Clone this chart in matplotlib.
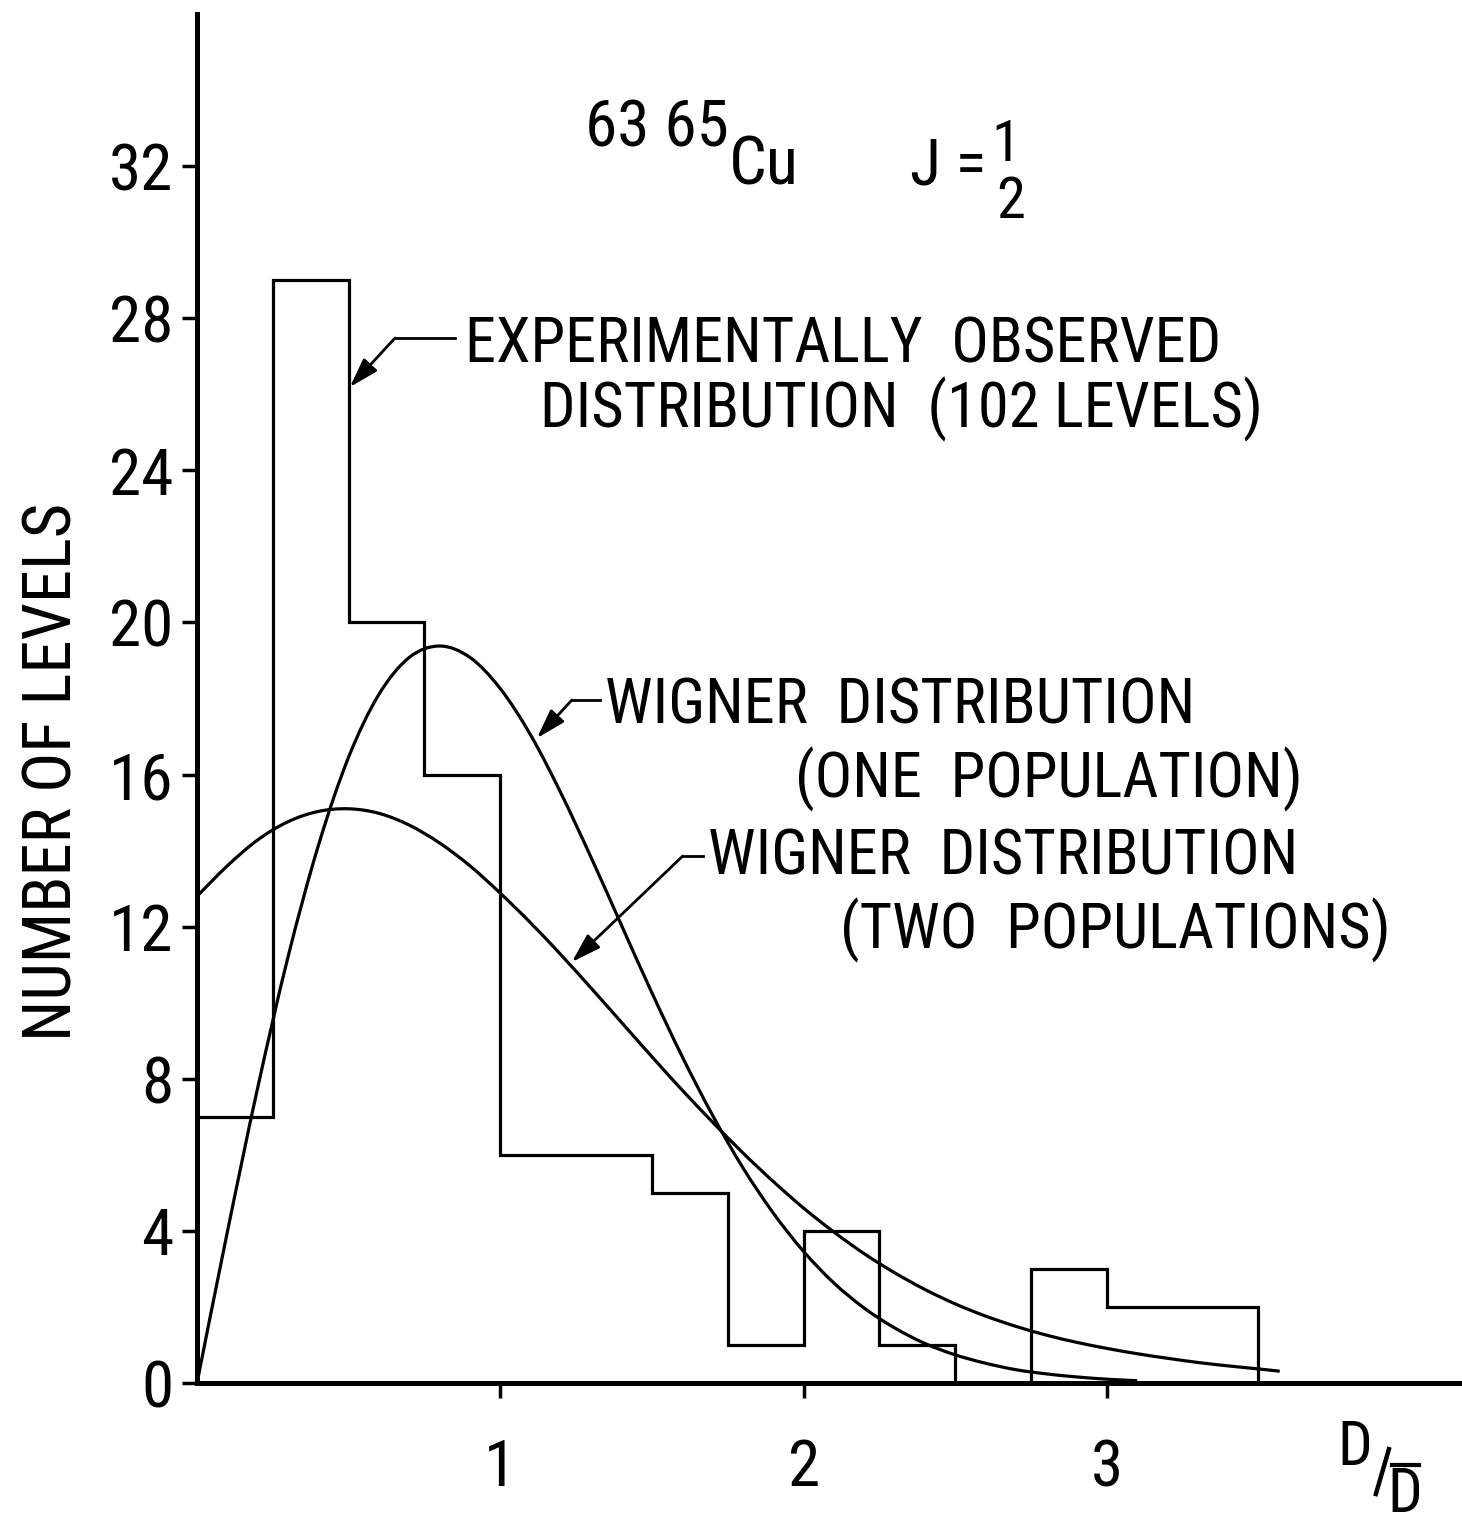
import matplotlib
matplotlib.use("Agg")
import matplotlib.pyplot as plt
import numpy as np
from matplotlib.path import Path
from matplotlib.patches import PathPatch
from matplotlib.lines import Line2D

plt.rcParams['font.family'] = ['Roboto Condensed', 'DejaVu Sans']

# Observed level-spacing histogram (bins of width 0.25 in D/<D>)
bin_edges = [0.0, 0.25, 0.5, 0.75, 1.0, 1.25, 1.5, 1.75, 2.0, 2.25, 2.5, 2.75, 3.0, 3.25, 3.5]
level_counts = [7, 29, 20, 16, 6, 6, 5, 1, 4, 1, 0, 3, 2, 2]

# Wigner distribution, one population
one_pop_x = [0.0, 0.1, 0.2, 0.3, 0.4, 0.5, 0.6, 0.7, 0.8, 0.9, 1.0, 1.1, 1.2, 1.3, 1.4,
             1.5, 1.6, 1.7, 1.8, 1.9, 2.0, 2.1, 2.2, 2.3, 2.4, 2.5, 2.6, 2.7, 2.8, 2.9,
             3.0, 3.1]
one_pop_y = [0.0, 3.97, 7.76, 11.2, 14.13, 16.46, 18.11, 19.08, 19.38, 19.08, 18.26,
             17.04, 15.51, 13.81, 12.03, 10.26, 8.58, 7.04, 5.66, 4.47, 3.46, 2.63,
             1.97, 1.45, 1.04, 0.74, 0.52, 0.35, 0.24, 0.16, 0.10, 0.06]

# Wigner distribution, two populations
two_pop_x = [0.0, 0.1, 0.2, 0.3, 0.4, 0.5, 0.6, 0.7, 0.8, 0.9, 1.0, 1.1, 1.2, 1.3, 1.4,
             1.5, 1.6, 1.7, 1.8, 1.9, 2.0, 2.1, 2.2, 2.3, 2.4, 2.5, 2.6, 2.7, 2.8, 2.9,
             3.0, 3.1, 3.2, 3.3, 3.4, 3.5, 3.57]
two_pop_y = [12.8, 13.6, 14.28, 14.76, 15.03, 15.1, 14.98, 14.67, 14.2, 13.6, 12.88,
             12.1, 11.26, 10.38, 9.48, 8.58, 7.7, 6.86, 6.05, 5.3, 4.6, 3.97, 3.4, 2.9,
             2.46, 2.08, 1.76, 1.49, 1.26, 1.07, 0.91, 0.77, 0.65, 0.54, 0.45, 0.37, 0.31]

y_ticks = [0, 4, 8, 12, 16, 20, 24, 28, 32]
x_ticks = [1, 2, 3]
x_tick_labels = ['1', '2', '3']


def smooth_path(xs, ys):
    """Catmull-Rom curve through the given points as cubic Bezier segments."""
    pts = np.column_stack([xs, ys]).astype(float)
    ext = np.vstack([pts[0], pts, pts[-1]])
    verts = [pts[0]]
    codes = [Path.MOVETO]
    for i in range(1, len(ext) - 2):
        p0, p1, p2, p3 = ext[i - 1], ext[i], ext[i + 1], ext[i + 2]
        c1 = p1 + (p2 - p0) / 6.0
        c2 = p2 - (p3 - p1) / 6.0
        verts += [c1, c2, p2]
        codes += [Path.CURVE4] * 3
    return Path(verts, codes)


W, H = 1462, 1524
fig = plt.figure(figsize=(W / 100, H / 100), dpi=100)
ax = fig.add_axes([197 / W, 141 / H, (W - 197) / W, (1383 - 14) / H])
ax.set_xlim(0, 4.171)
ax.set_ylim(0, 36.0)

LW = 2.3
ax.stairs(level_counts, bin_edges, baseline=0, color='black', lw=LW)
for xs, ys in ((one_pop_x, one_pop_y), (two_pop_x, two_pop_y)):
    ax.add_patch(PathPatch(smooth_path(xs, ys), facecolor='none',
                           edgecolor='black', lw=LW, transform=ax.transData))

for s in ('top', 'right'):
    ax.spines[s].set_visible(False)
for s in ('left', 'bottom'):
    ax.spines[s].set_linewidth(3.6)

ax.set_yticks(y_ticks)
ax.set_yticklabels([str(v) for v in y_ticks])
ax.set_xticks(x_ticks)
ax.set_xticklabels(x_tick_labels)
ax.tick_params(axis='y', direction='out', length=11, width=2.5, pad=6, labelsize=47)
ax.tick_params(axis='x', direction='out', length=11, width=2.5, pad=28, labelsize=47)

ax.text(-0.472, 16.07, 'NUMBER OF LEVELS', rotation=90, ha='center', va='center',
        fontsize=48, clip_on=False)

# Title block
ax.text(1.280, 33.0, '63 65', ha='left', va='center', fontsize=47)
ax.text(1.755, 32.0, 'Cu', ha='left', va='center', fontsize=48)
ax.text(2.351, 32.0, 'J =', ha='left', va='center', fontsize=46)
ax.text(2.667, 32.55, '1', ha='center', va='center', fontsize=42)
ax.text(2.684, 31.05, '2', ha='center', va='center', fontsize=42)

# Annotations
ANN = 45
ax.text(0.884, 27.29, 'EXPERIMENTALLY  OBSERVED', ha='left', va='center', fontsize=ANN)
ax.text(1.131, 25.59, 'DISTRIBUTION  (102 LEVELS)', ha='left', va='center', fontsize=ANN)
ax.text(1.345, 17.80, 'WIGNER  DISTRIBUTION', ha='left', va='center', fontsize=ANN)
ax.text(1.972, 15.88, '(ONE  POPULATION)', ha='left', va='center', fontsize=ANN)
ax.text(1.685, 13.83, 'WIGNER  DISTRIBUTION', ha='left', va='center', fontsize=ANN)
ax.text(2.120, 11.91, '(TWO  POPULATIONS)', ha='left', va='center', fontsize=ANN)

arrow_kw = dict(arrowstyle='-|>,head_length=0.9,head_width=0.28', color='black',
                lw=2.0, mutation_scale=20, shrinkA=0, shrinkB=0)
leaders = [
    ((0.851, 27.48), (0.653, 27.48), (0.504, 26.19)),
    ((1.329, 17.96), (1.236, 17.96), (1.121, 16.96)),
    ((1.668, 13.86), (1.602, 13.86), (1.236, 11.07)),
]
for start, knee, tip in leaders:
    ax.plot([start[0], knee[0]], [start[1], knee[1]], color='black', lw=2.0)
    ax.annotate('', xy=tip, xytext=knee, arrowprops=arrow_kw)

# Axis quantity D / D-bar
ax.text(3.818, -1.70, 'D', ha='center', va='center', fontsize=44, clip_on=False)
ax.add_line(Line2D([3.887, 3.930], [-2.92, -1.74], color='black', lw=3.2, clip_on=False))
ax.text(3.983, -2.95, 'D', ha='center', va='center', fontsize=44, clip_on=False)
ax.add_line(Line2D([3.94, 4.03], [-2.16, -2.16], color='black', lw=3.0, clip_on=False))

fig.savefig('out.png', dpi=100, facecolor='white')
